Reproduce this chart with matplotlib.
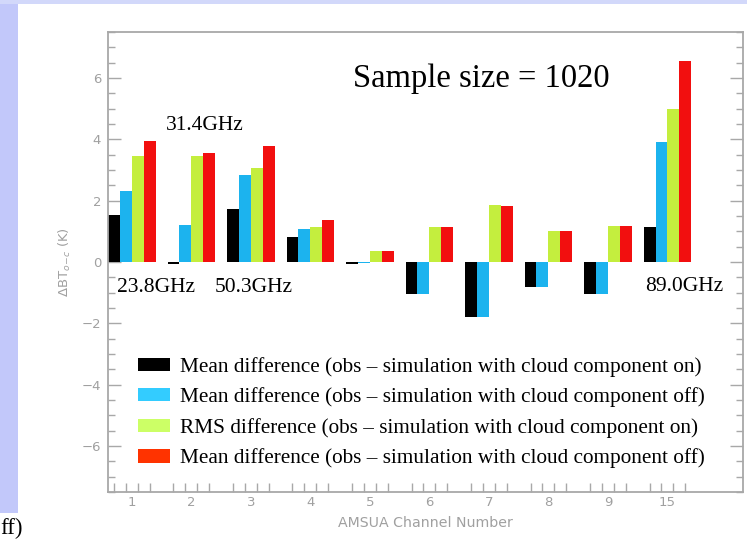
import matplotlib
matplotlib.use("Agg")
import matplotlib.pyplot as plt
import numpy as np
from matplotlib.patches import Patch, Rectangle
from matplotlib.ticker import MultipleLocator, FixedLocator

# ---- data ----
channels = ["1", "2", "3", "4", "5", "6", "7", "8", "9", "15"]
mean_cloud_on = [1.52, -0.05, 1.72, 0.81, -0.08, -1.05, -1.80, -0.83, -1.05, 1.14]
mean_cloud_off = [2.33, 1.22, 2.84, 1.07, -0.04, -1.05, -1.80, -0.83, -1.05, 3.90]
rms_cloud_on = [3.47, 3.45, 3.07, 1.13, 0.35, 1.13, 1.85, 1.00, 1.16, 5.00]
mean_cloud_off2 = [3.96, 3.56, 3.77, 1.36, 0.35, 1.13, 1.82, 1.00, 1.16, 6.55]
series = [mean_cloud_on, mean_cloud_off, rms_cloud_on, mean_cloud_off2]
bar_colors = ["#000000", "#1CB3EE", "#C4EE3E", "#F20F0F"]
legend_colors = ["#000000", "#33CCFF", "#CCFF66", "#FF3300"]
legend_labels = [
    "Mean difference (obs \u2013 simulation with cloud component on)",
    "Mean difference (obs \u2013 simulation with cloud component off)",
    "RMS difference (obs \u2013 simulation with cloud component on)",
    "Mean difference (obs \u2013 simulation with cloud component off)",
]
freq_labels = ["23.8GHz", "31.4GHz", "50.3GHz", "89.0GHz"]

W, H = 747, 539
fig = plt.figure(figsize=(W / 100, H / 100), dpi=100)
fig.patch.set_facecolor("white")

# slide background strips
fig.patches.append(Rectangle((0, 1 - 513 / H), 18 / W, 513 / H, transform=fig.transFigure,
                             facecolor="#C2C8FA", edgecolor="none", zorder=0))
fig.patches.append(Rectangle((0, 1 - 4 / H), 1, 4 / H, transform=fig.transFigure,
                             facecolor="#D2D8FA", edgecolor="none", zorder=0))

ax = fig.add_axes([108 / W, 1 - 492 / H, (743 - 108) / W, (492 - 32) / H])
ax.set_facecolor("white")

x = np.arange(len(channels))
width = 0.2
offsets = [-0.3, -0.1, 0.1, 0.3]
for vals, col, off in zip(series, bar_colors, offsets):
    ax.bar(x + off, vals, width=width, color=col, edgecolor="none", zorder=2)

ax.set_xlim(-0.40, 10.27)
ax.set_ylim(-7.5, 7.5)

grey = "#A8A8A8"
for s in ax.spines.values():
    s.set_color(grey)
    s.set_linewidth(1.3)

ax.yaxis.set_major_locator(MultipleLocator(2))
ax.yaxis.set_minor_locator(MultipleLocator(0.5))
ax.tick_params(axis="y", which="major", direction="in", length=9.5, width=1.0,
               color=grey, labelcolor="#A0A0A0", labelsize=9.5, right=True, pad=5)
ax.tick_params(axis="y", which="minor", direction="in", length=4.7, width=1.0,
               color=grey, right=True)

ax.set_xticks(x)
ax.set_xticklabels(channels)
minor_x = np.concatenate([x + o for o in offsets])
ax.xaxis.set_minor_locator(FixedLocator(np.sort(minor_x)))
ax.tick_params(axis="x", which="major", length=0, labelcolor="#A0A0A0",
               labelsize=9.5, pad=3)
ax.tick_params(axis="x", which="minor", direction="in", length=6.5, width=1.0,
               color=grey, top=False)

ax.set_xlabel("AMSUA Channel Number", color="#A0A0A0", fontsize=10.2, labelpad=5)
ax.set_ylabel(r"$\Delta$BT$_{o\!-\!c}$ (K)", color="#A0A0A0", fontsize=9.5, labelpad=6)

serif = "Liberation Serif"
ax.text(5.88, 5.71, "Sample size = 1020", family=serif, fontsize=23.5,
        ha="center", va="baseline", zorder=3)
ax.text(0.41, -0.97, freq_labels[0], family=serif, fontsize=15.5, ha="center", va="baseline")
ax.text(1.22, 4.32, freq_labels[1], family=serif, fontsize=15.5, ha="center", va="baseline")
ax.text(2.05, -0.97, freq_labels[2], family=serif, fontsize=15.5, ha="center", va="baseline")
ax.text(9.29, -0.94, freq_labels[3], family=serif, fontsize=15.5, ha="center", va="baseline")

handles = [Patch(facecolor=c, edgecolor="none") for c in legend_colors]
fig.legend(handles, legend_labels, loc="upper left",
           bbox_to_anchor=(138 / W, 1 - 357 / H), frameon=False,
           prop={"family": serif, "size": 15.3}, handlelength=1.5,
           handleheight=0.57, handletextpad=0.48, labelspacing=0.5,
           borderpad=0, borderaxespad=0)

fig.text(0, 1 - 534 / H, "ff)", family=serif, fontsize=16.5, ha="left", va="baseline")

fig.savefig("out.png", dpi=100, facecolor=fig.get_facecolor())
